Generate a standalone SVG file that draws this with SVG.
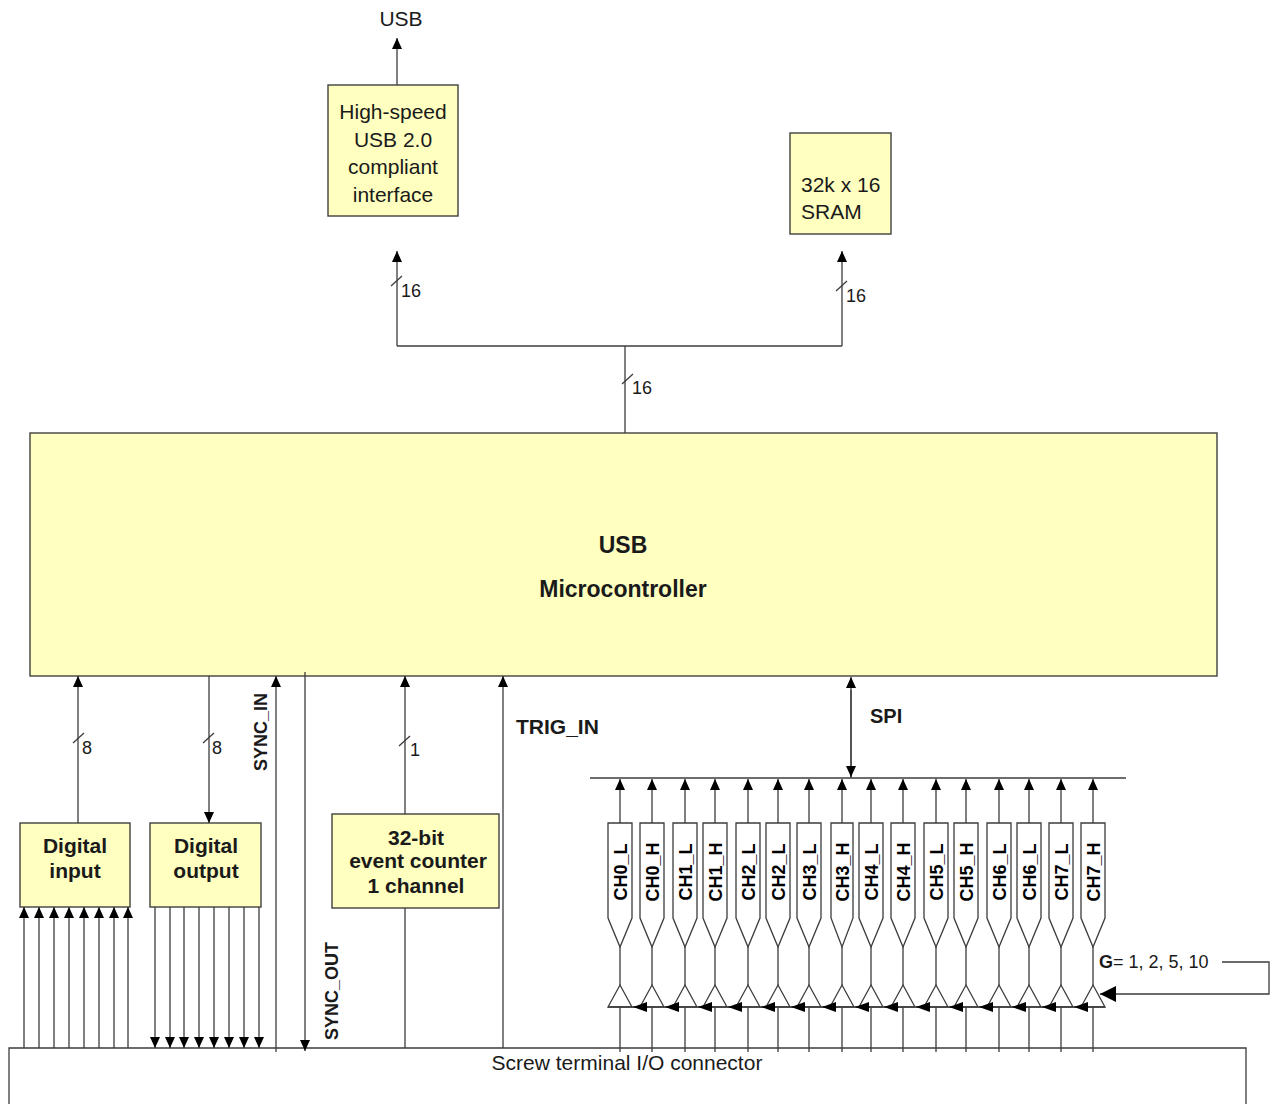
<svg xmlns="http://www.w3.org/2000/svg" width="1271" height="1104" viewBox="0 0 1271 1104">
<style>
.box{fill:#ffffc0;stroke:#404040;stroke-width:1.4}
.ln{fill:none;stroke:#3c3c3c;stroke-width:1.3}
.sh{fill:#ffffff;stroke:#3c3c3c;stroke-width:1.3}
.t{font-family:"Liberation Sans",Arial,sans-serif;font-size:21px;fill:#1a1a1a}
.b{font-family:"Liberation Sans",Arial,sans-serif;font-weight:bold;font-size:21px;fill:#1a1a1a}
.n{font-family:"Liberation Sans",Arial,sans-serif;font-size:18px;fill:#1a1a1a}
.ch{font-family:"Liberation Sans",Arial,sans-serif;font-weight:bold;font-size:18px;fill:#000}
.m{text-anchor:middle}
</style>
<defs>
<marker id="a" markerUnits="userSpaceOnUse" markerWidth="12" markerHeight="11" refX="11" refY="5.5" orient="auto"><path d="M0,0.5 L11,5.5 L0,10.5 z" fill="#000"/></marker>
<marker id="g" markerUnits="userSpaceOnUse" markerWidth="15" markerHeight="11" refX="14" refY="5" orient="auto"><path d="M0,0 L14,5 L0,10 z" fill="#000"/></marker>
<marker id="G" markerUnits="userSpaceOnUse" markerWidth="17" markerHeight="17" refX="16" refY="8" orient="auto"><path d="M0,0 L16,8 L0,16 z" fill="#000"/></marker>
</defs>

<g id="usb-label"><text class="t m" x="401" y="26">USB</text></g>

<g id="usb-interface">
<rect class="box" x="328" y="85" width="130" height="131"/>
<text class="t m" x="393" y="119">High-speed</text>
<text class="t m" x="393" y="147">USB 2.0</text>
<text class="t m" x="393" y="174">compliant</text>
<text class="t m" x="393" y="202">interface</text>
</g>

<g id="sram">
<rect class="box" x="790" y="133" width="101" height="101"/>
<text class="t" x="801" y="192">32k x 16</text>
<text class="t" x="801" y="219">SRAM</text>
</g>

<g id="bus-labels">
<text class="n" x="401" y="297">16</text>
<text class="n" x="846" y="302">16</text>
<text class="n" x="632" y="394">16</text>
<text class="n" x="82" y="754">8</text>
<text class="n" x="212" y="754">8</text>
<text class="n" x="410" y="756">1</text>
</g>

<g id="microcontroller">
<rect class="box" x="30" y="433" width="1187" height="243"/>
<text class="b m" x="623" y="553" style="font-size:23px">USB</text>
<text class="b m" x="623" y="597" style="font-size:23px">Microcontroller</text>
</g>

<g id="digital-input">
<rect class="box" x="20" y="823" width="110" height="84"/>
<text class="b m" x="75" y="853">Digital</text>
<text class="b m" x="75" y="878">input</text>
</g>

<g id="digital-output">
<rect class="box" x="150" y="823" width="111" height="84"/>
<text class="b m" x="206" y="853">Digital</text>
<text class="b m" x="206" y="878">output</text>
</g>

<g id="event-counter">
<rect class="box" x="332" y="814" width="167" height="94"/>
<text class="b m" x="416" y="845">32-bit</text>
<text class="b m" x="418" y="868">event counter</text>
<text class="b m" x="416" y="893">1 channel</text>
</g>

<g id="signal-labels">
<text class="b m" transform="translate(267,732) rotate(-90)" style="font-size:18px">SYNC_IN</text>
<text class="b m" transform="translate(338,991) rotate(-90)" style="font-size:18px">SYNC_OUT</text>
<text class="b" x="516" y="734">TRIG_IN</text>
<text class="b" x="870" y="723" style="font-size:20px">SPI</text>
<text class="t" x="1099" y="968" style="font-size:18px"><tspan font-weight="bold">G</tspan>= 1, 2, 5, 10</text>
</g>

<g id="channels">
<g id="ch0l"><path class="sh" d="M608,823 H632 V918 L620,947 L608,918 Z"/><path class="sh" d="M620,985 L632,1007 L608,1007 Z"/><text class="ch m" transform="translate(626.5,872) rotate(-90)">CH0_L</text></g>
<g id="ch0h"><path class="sh" d="M640,823 H664 V918 L652,947 L640,918 Z"/><path class="sh" d="M652,985 L664,1007 L640,1007 Z"/><text class="ch m" transform="translate(658.5,872) rotate(-90)">CH0_H</text></g>
<g id="ch1l"><path class="sh" d="M673,823 H697 V918 L685,947 L673,918 Z"/><path class="sh" d="M685,985 L697,1007 L673,1007 Z"/><text class="ch m" transform="translate(691.5,872) rotate(-90)">CH1_L</text></g>
<g id="ch1h"><path class="sh" d="M703,823 H727 V918 L715,947 L703,918 Z"/><path class="sh" d="M715,985 L727,1007 L703,1007 Z"/><text class="ch m" transform="translate(721.5,872) rotate(-90)">CH1_H</text></g>
<g id="ch2l"><path class="sh" d="M736,823 H760 V918 L748,947 L736,918 Z"/><path class="sh" d="M748,985 L760,1007 L736,1007 Z"/><text class="ch m" transform="translate(754.5,872) rotate(-90)">CH2_L</text></g>
<g id="ch2l-b"><path class="sh" d="M766,823 H790 V918 L778,947 L766,918 Z"/><path class="sh" d="M778,985 L790,1007 L766,1007 Z"/><text class="ch m" transform="translate(784.5,872) rotate(-90)">CH2_L</text></g>
<g id="ch3l"><path class="sh" d="M797,823 H821 V918 L809,947 L797,918 Z"/><path class="sh" d="M809,985 L821,1007 L797,1007 Z"/><text class="ch m" transform="translate(815.5,872) rotate(-90)">CH3_L</text></g>
<g id="ch3h"><path class="sh" d="M831,823 H853 V918 L842,947 L831,918 Z"/><path class="sh" d="M842,985 L854,1007 L830,1007 Z"/><text class="ch m" transform="translate(848.5,872) rotate(-90)">CH3_H</text></g>
<g id="ch4l"><path class="sh" d="M859,823 H883 V918 L871,947 L859,918 Z"/><path class="sh" d="M871,985 L883,1007 L859,1007 Z"/><text class="ch m" transform="translate(877.5,872) rotate(-90)">CH4_L</text></g>
<g id="ch4h"><path class="sh" d="M891,823 H915 V918 L903,947 L891,918 Z"/><path class="sh" d="M903,985 L915,1007 L891,1007 Z"/><text class="ch m" transform="translate(909.5,872) rotate(-90)">CH4_H</text></g>
<g id="ch5l"><path class="sh" d="M924,823 H948 V918 L936,947 L924,918 Z"/><path class="sh" d="M936,985 L948,1007 L924,1007 Z"/><text class="ch m" transform="translate(942.5,872) rotate(-90)">CH5_L</text></g>
<g id="ch5h"><path class="sh" d="M954,823 H978 V918 L966,947 L954,918 Z"/><path class="sh" d="M966,985 L978,1007 L954,1007 Z"/><text class="ch m" transform="translate(972.5,872) rotate(-90)">CH5_H</text></g>
<g id="ch6l"><path class="sh" d="M987,823 H1011 V918 L999,947 L987,918 Z"/><path class="sh" d="M999,985 L1011,1007 L987,1007 Z"/><text class="ch m" transform="translate(1005.5,872) rotate(-90)">CH6_L</text></g>
<g id="ch6l-b"><path class="sh" d="M1017,823 H1041 V918 L1029,947 L1017,918 Z"/><path class="sh" d="M1029,985 L1041,1007 L1017,1007 Z"/><text class="ch m" transform="translate(1035.5,872) rotate(-90)">CH6_L</text></g>
<g id="ch7l"><path class="sh" d="M1049,823 H1073 V918 L1061,947 L1049,918 Z"/><path class="sh" d="M1061,985 L1073,1007 L1049,1007 Z"/><text class="ch m" transform="translate(1067.5,872) rotate(-90)">CH7_L</text></g>
<g id="ch7h"><path class="sh" d="M1081,823 H1105 V918 L1093,947 L1081,918 Z"/><path class="sh" d="M1093,985 L1105,1007 L1081,1007 Z"/><text class="ch m" transform="translate(1099.5,872) rotate(-90)">CH7_H</text></g>
</g>

<g id="screw-terminal">
<path class="ln" d="M9,1110 V1048 H1246 V1110"/>
<text class="t m" x="627" y="1070">Screw terminal I/O connector</text>
</g>

<g id="connectors">
<path class="ln" d="M397,85 V38" marker-end="url(#a)"/>
<path class="ln" d="M397,346 H842"/>
<path class="ln" d="M397,346 V251" marker-end="url(#a)"/>
<path class="ln" d="M842,346 V251" marker-end="url(#a)"/>
<path class="ln" d="M625,346 V433"/>
<path class="ln" d="M391,286 L402,276 M836,291 L847,281 M622,384 L633,374"/>
<path class="ln" d="M78,823 V676" marker-end="url(#a)"/>
<path class="ln" d="M73,743 L84,733"/>
<path class="ln" d="M209,676 V823" marker-end="url(#a)"/>
<path class="ln" d="M203,743 L214,733"/>
<g class="ln">
<path d="M24,1048 V907" marker-end="url(#a)"/>
<path d="M39,1048 V907" marker-end="url(#a)"/>
<path d="M54,1048 V907" marker-end="url(#a)"/>
<path d="M69,1048 V907" marker-end="url(#a)"/>
<path d="M84,1048 V907" marker-end="url(#a)"/>
<path d="M99,1048 V907" marker-end="url(#a)"/>
<path d="M114,1048 V907" marker-end="url(#a)"/>
<path d="M128,1048 V907" marker-end="url(#a)"/>
<path d="M155,907 V1048" marker-end="url(#a)"/>
<path d="M170,907 V1048" marker-end="url(#a)"/>
<path d="M184,907 V1048" marker-end="url(#a)"/>
<path d="M199,907 V1048" marker-end="url(#a)"/>
<path d="M214,907 V1048" marker-end="url(#a)"/>
<path d="M229,907 V1048" marker-end="url(#a)"/>
<path d="M244,907 V1048" marker-end="url(#a)"/>
<path d="M259,907 V1048" marker-end="url(#a)"/>
</g>
<path class="ln" d="M276,1052 V676" marker-end="url(#a)"/>
<path class="ln" d="M305,672 V1051" marker-end="url(#a)"/>
<path class="ln" d="M405,814 V676" marker-end="url(#a)"/>
<path class="ln" d="M399,746 L410,736"/>
<path class="ln" d="M405,908 V1048"/>
<path class="ln" d="M503,1048 V676" marker-end="url(#a)"/>
<path class="ln" d="M851,778 V677" marker-end="url(#a)"/>
<path class="ln" d="M851,690 V777" marker-end="url(#a)"/>
<path class="ln" d="M590,778 H1126"/>
<g class="ln">
<path d="M620,823 V779" marker-end="url(#a)"/>
<path d="M652,823 V779" marker-end="url(#a)"/>
<path d="M685,823 V779" marker-end="url(#a)"/>
<path d="M715,823 V779" marker-end="url(#a)"/>
<path d="M748,823 V779" marker-end="url(#a)"/>
<path d="M778,823 V779" marker-end="url(#a)"/>
<path d="M809,823 V779" marker-end="url(#a)"/>
<path d="M842,823 V779" marker-end="url(#a)"/>
<path d="M871,823 V779" marker-end="url(#a)"/>
<path d="M903,823 V779" marker-end="url(#a)"/>
<path d="M936,823 V779" marker-end="url(#a)"/>
<path d="M966,823 V779" marker-end="url(#a)"/>
<path d="M999,823 V779" marker-end="url(#a)"/>
<path d="M1029,823 V779" marker-end="url(#a)"/>
<path d="M1061,823 V779" marker-end="url(#a)"/>
<path d="M1093,823 V779" marker-end="url(#a)"/>
</g>
<path class="ln" d="M620,947 V985 M652,947 V985 M685,947 V985 M715,947 V985 M748,947 V985 M778,947 V985 M809,947 V985 M842,947 V985 M871,947 V985 M903,947 V985 M936,947 V985 M966,947 V985 M999,947 V985 M1029,947 V985 M1061,947 V985 M1093,947 V985"/>
<path class="ln" d="M620,1007 V1052 M652,1007 V1052 M685,1007 V1052 M715,1007 V1052 M748,1007 V1052 M778,1007 V1052 M809,1007 V1052 M842,1007 V1052 M871,1007 V1052 M903,1007 V1052 M936,1007 V1052 M966,1007 V1052 M999,1007 V1052 M1029,1007 V1052 M1061,1007 V1052 M1093,1007 V1052"/>
<path class="ln" d="M608,1007 H1105"/>
<g class="ln">
<path d="M648,1007 H633" marker-end="url(#g)"/>
<path d="M680,1007 H665" marker-end="url(#g)"/>
<path d="M713,1007 H698" marker-end="url(#g)"/>
<path d="M743,1007 H728" marker-end="url(#g)"/>
<path d="M776,1007 H761" marker-end="url(#g)"/>
<path d="M806,1007 H791" marker-end="url(#g)"/>
<path d="M837,1007 H822" marker-end="url(#g)"/>
<path d="M870,1007 H855" marker-end="url(#g)"/>
<path d="M899,1007 H884" marker-end="url(#g)"/>
<path d="M931,1007 H916" marker-end="url(#g)"/>
<path d="M964,1007 H949" marker-end="url(#g)"/>
<path d="M994,1007 H979" marker-end="url(#g)"/>
<path d="M1027,1007 H1012" marker-end="url(#g)"/>
<path d="M1057,1007 H1042" marker-end="url(#g)"/>
<path d="M1089,1007 H1074" marker-end="url(#g)"/>
</g>
<path class="ln" d="M1222,962 H1269 V994 H1100" marker-end="url(#G)"/>
</g>
</svg>
